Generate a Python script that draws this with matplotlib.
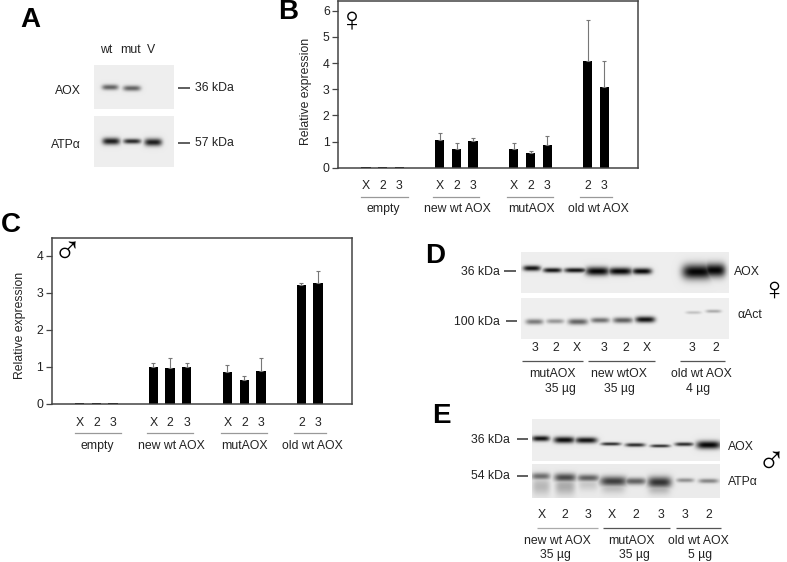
import numpy as np
import matplotlib
matplotlib.use("Agg")
import matplotlib.pyplot as plt

plt.rcParams['font.family'] = ['Liberation Sans', 'DejaVu Sans']

# bar data
lane_labels = ['X', '2', '3', 'X', '2', '3', 'X', '2', '3', '2', '3']
group_names = ['empty', 'new wt AOX', 'mutAOX', 'old wt AOX']

female_vals = [0.04, 0.04, 0.04, 1.05, 0.73, 1.02, 0.73, 0.56, 0.88, 4.08, 3.10]
female_err = [0, 0, 0, 0.27, 0.20, 0.12, 0.21, 0.09, 0.35, 1.58, 0.98]
male_vals = [0.04, 0.04, 0.04, 1.00, 0.96, 0.99, 0.86, 0.66, 0.88, 3.22, 3.27]
male_err = [0, 0, 0, 0.12, 0.29, 0.13, 0.19, 0.09, 0.35, 0.04, 0.31]

# bar layout in category units
bar_x = [0, 1, 2, 4.42, 5.43, 6.42, 8.86, 9.88, 10.88, 13.3, 14.3]
group_lines = [(-0.3, 2.5), (4.02, 6.8), (8.46, 11.22), (12.84, 14.76)]
group_centers = [1.06, 5.5, 9.9, 13.96]

# blot panels: left, right, top, bottom, background level
panel_boxes = [
    (94, 174, 65, 109, 0.93),
    (94, 174, 116, 167, 0.93),
    (521, 729, 252, 293, 0.93),
    (521, 729, 298, 339, 0.94),
    (532, 720, 419, 461, 0.93),
    (532, 720, 464, 498, 0.92),
]
# bands per panel: x, y, half width, half height, darkness
panel_bands = [
    [(110, 87, 7.5, 2.2, 0.6), (131.7, 88, 8, 2.2, 0.6)],
    [(111, 141, 8, 2.8, 0.9), (132, 141, 8, 2.0, 0.85), (153, 142, 8, 3.0, 0.9)],
    [(531.7, 268, 8, 2.2, 0.95), (552.3, 270, 8.5, 1.9, 0.95), (575, 270, 10, 1.9, 0.95),
     (597.3, 271, 11, 3.5, 1.0), (620, 271, 11, 3.0, 1.0), (641.7, 271, 9, 2.5, 1.0),
     (697.3, 271.5, 14, 6, 1.0), (714.3, 270, 10, 5.5, 1.0)],
    [(534.3, 321.5, 8, 2.2, 0.5), (555, 321, 8, 1.9, 0.38), (577.7, 321.5, 9, 2.4, 0.6),
     (600, 320, 8.5, 2.1, 0.55), (622.7, 320, 9, 2.3, 0.62), (645, 319.3, 9, 2.5, 0.95),
     (693.3, 312.3, 7, 1.2, 0.2), (713.3, 311, 7, 1.3, 0.3)],
    [(540.7, 438.3, 8, 2.2, 0.95), (564, 439.7, 9.5, 2.6, 0.98), (586, 440, 10, 2.4, 0.95),
     (610.7, 443.7, 9, 1.3, 0.85), (635, 444.7, 9, 1.5, 0.85), (660, 445.7, 9, 1.2, 0.85),
     (684, 444, 8.5, 1.5, 0.85), (708.3, 444.7, 11, 3.2, 1.0)],
    [(540.7, 476, 8.5, 2.8, 0.55), (565, 477.3, 10, 3.4, 0.7), (588, 477.7, 10, 2.8, 0.6),
     (613.3, 481, 12.5, 4, 0.75), (635, 481, 10, 2.8, 0.6), (659.3, 482, 11, 4.5, 0.8),
     (685, 480, 8, 1.7, 0.4), (708.3, 480.7, 9, 1.8, 0.45),
     (541, 486, 8, 7, 0.22), (565, 486, 9, 7, 0.28), (588, 484, 9, 5, 0.15),
     (613, 487, 11, 5, 0.2), (659, 488, 10, 5, 0.25)],
]

# all sizes below are in pixels of the 787x562 figure
W, H = 787, 562
fig = plt.figure(figsize=(W / 100, H / 100), dpi=100)
ink = '#222222'
fs = 8.8


def make_axes(left, right, top, bottom):
    return fig.add_axes([left / W, 1 - bottom / H, (right - left) / W, (bottom - top) / H])


def draw_bars(ax, vals, err, ymax, yticks):
    ax.bar(bar_x, vals, width=0.57, color='black', linewidth=0)
    shown = [i for i in range(len(err)) if err[i] > 0]
    ax.errorbar([bar_x[i] for i in shown], [vals[i] for i in shown],
                yerr=[[0] * len(shown), [err[i] for i in shown]], fmt='none',
                ecolor='#777777', elinewidth=0.8, capsize=1.5, capthick=0.8)
    ax.set_xlim(-1.68, 16.32)
    ax.set_ylim(0, ymax)
    ax.set_yticks(yticks)
    ax.set_xticks(bar_x)
    ax.set_xticklabels(lane_labels)
    ax.tick_params(axis='x', length=0, pad=9, labelsize=fs, labelcolor=ink)
    ax.tick_params(axis='y', length=4, width=0.9, color='#444444', pad=2, labelsize=fs, labelcolor=ink)
    for s in ax.spines.values():
        s.set_color('#444444')
        s.set_linewidth(1.1)
    ax.set_ylabel('Relative expression', fontsize=fs, color=ink)
    trans = ax.get_xaxis_transform()
    for (a, b), c, name in zip(group_lines, group_centers, group_names):
        ax.plot([a, b], [-0.174, -0.174], transform=trans, color='#999999', lw=0.9, clip_on=False)
        ax.text(c, -0.25, name, transform=trans, ha='center', va='center', fontsize=fs, color=ink)


ax_b = make_axes(338, 638, 1, 167.7)
draw_bars(ax_b, female_vals, female_err, 6.37, [0, 1, 2, 3, 4, 5, 6])
ax_b.yaxis.set_label_coords(-0.087, 0.455)

ax_c = make_axes(51.7, 351.7, 237.7, 404)
draw_bars(ax_c, male_vals, male_err, 4.49, [0, 1, 2, 3, 4])
ax_c.yaxis.set_label_coords(-0.085, 0.473)

# overlay in pixel coordinates for the blots and their labels
ov = fig.add_axes([0, 0, 1, 1], zorder=5)
ov.patch.set_alpha(0)
ov.axis('off')

for (l, r, t, b, bg), bands in zip(panel_boxes, panel_bands):
    xs = np.arange(l, r, 0.5)
    ys = np.arange(t, b, 0.5)
    gx, gy = np.meshgrid(xs, ys)
    img = np.zeros_like(gx)
    for x0, y0, hw, hh, d in bands:
        img = np.maximum(img, d * np.exp(-((gx - x0) / (hw * 1.1)) ** 4 - ((gy - y0) / (hh * 1.25)) ** 2))
    ov.imshow(bg * (1 - img) + 0.02 * img, extent=(l, r, b, t), cmap='gray', vmin=0, vmax=1,
              aspect='auto', interpolation='bilinear')

ov.set_xlim(0, W)
ov.set_ylim(H, 0)


def label(x, y, s, ha='left', size=fs, **kw):
    ov.text(x, y, s, ha=ha, va='center', fontsize=size, color=kw.pop('color', ink), **kw)


def dash(x0, x1, y, color='#333333', lw=1.1):
    ov.plot([x0, x1], [y, y], color=color, lw=lw, solid_capstyle='butt')


# panel letters
for x, y, s in [(20, 20, 'A'), (278, 12, 'B'), (1, 225, 'C'), (425, 256, 'D'), (432, 416, 'E')]:
    label(x, y, s, size=20, color='black', fontweight='bold')

# gender marks
for x, y, s, size in [(352, 22, '\u2640', 25), (67, 253, '\u2642', 28),
                      (774, 291, '\u2640', 24), (771, 463, '\u2642', 28)]:
    label(x, y, s, ha='center', size=size, family='Liberation Sans', color='black')

# panel A
for x, s in [(106, 'wt'), (130, 'mut'), (151, 'V')]:
    label(x, 50, s, ha='center')
label(81, 91, 'AOX', ha='right')
label(81, 145, 'ATP\u03b1', ha='right')
dash(178, 190, 88)
dash(178, 190, 143)
label(195, 88, '36 kDa')
label(195, 143, '57 kDa')

# panel D
label(500, 272, '36 kDa', ha='right')
label(500, 322, '100 kDa', ha='right')
dash(504, 516, 271)
dash(506, 517, 321)
label(734, 272, 'AOX')
label(737, 315, '\u03b1Act')
for x, s in [(535, '3'), (556, '2'), (577, 'X'), (604, '3'), (626, '2'), (647, 'X'), (692, '3'), (716, '2')]:
    label(x, 348, s, ha='center')
for a, b in [(522, 583), (588, 655), (680, 725)]:
    dash(a, b, 361, color='#555555', lw=0.9)
for x, y, s in [(552, 374, 'mutAOX'), (560, 389, '35 \u00b5g'), (619, 374, 'new wtOX'),
                (619, 389, '35 \u00b5g'), (701, 374, 'old wt AOX'), (698, 389, '4 \u00b5g')]:
    label(x, y, s, ha='center')

# panel E
label(510, 440, '36 kDa', ha='right')
label(510, 476, '54 kDa', ha='right')
dash(517, 528, 439)
dash(517, 528, 476)
label(728, 447, 'AOX')
label(728, 482, 'ATP\u03b1')
for x, s in [(542, 'X'), (565, '2'), (588, '3'), (612, 'X'), (636, '2'), (661, '3'), (685, '3'), (709, '2')]:
    label(x, 515, s, ha='center')
for a, b, c in [(537, 598, '#aaaaaa'), (603, 670, '#555555'), (676, 721, '#555555')]:
    dash(a, b, 527.5, color=c, lw=0.9)
for x, y, s in [(557, 541, 'new wt AOX'), (555, 555, '35 \u00b5g'), (631, 541, 'mutAOX'),
                (634, 555, '35 \u00b5g'), (698, 541, 'old wt AOX'), (700, 555, '5 \u00b5g')]:
    label(x, y, s, ha='center')

fig.savefig('out.png', dpi=100)
